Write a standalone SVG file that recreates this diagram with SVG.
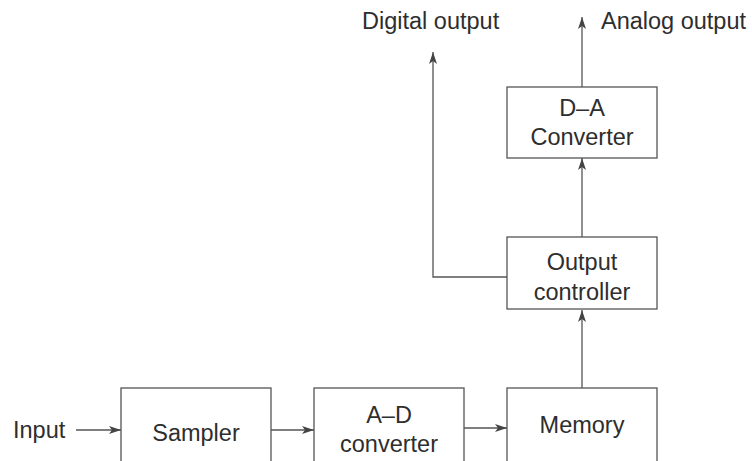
<svg xmlns="http://www.w3.org/2000/svg" width="752" height="461" viewBox="0 0 752 461">
<style>
.box{fill:none;stroke:#555;stroke-width:1.3}
.ln{fill:none;stroke:#555;stroke-width:1.3}
text{font-family:"Liberation Sans",Arial,sans-serif;font-size:23.5px;fill:#2e2e2e}
.c{text-anchor:middle}
</style>
<defs>
<marker id="ah" viewBox="0 0 12 8" refX="12" refY="4" markerWidth="12" markerHeight="8" markerUnits="userSpaceOnUse" orient="auto">
<path d="M0,0 L12,4 L0,8 L3,4 Z" fill="#444"/>
</marker>
</defs>
<rect width="752" height="461" fill="#fff"/>
<g id="connectors">
<line class="ln" x1="76" y1="430" x2="121" y2="430" marker-end="url(#ah)"/>
<line class="ln" x1="271" y1="430" x2="314" y2="430" marker-end="url(#ah)"/>
<line class="ln" x1="464" y1="428" x2="507" y2="428" marker-end="url(#ah)"/>
<line class="ln" x1="582" y1="388" x2="582" y2="310" marker-end="url(#ah)"/>
<line class="ln" x1="582" y1="237" x2="582" y2="158" marker-end="url(#ah)"/>
<line class="ln" x1="582" y1="87" x2="582" y2="17" marker-end="url(#ah)"/>
<polyline class="ln" points="507,277 433,277 433,52" marker-end="url(#ah)"/>
</g>
<g id="input"><text x="13" y="438">Input</text></g>
<g id="sampler"><rect class="box" x="121" y="388" width="150" height="90"/><text class="c" x="196" y="441">Sampler</text></g>
<g id="ad"><rect class="box" x="314" y="388" width="150" height="90"/><text class="c" x="389" y="423">A–D</text><text class="c" x="389" y="452">converter</text></g>
<g id="memory"><rect class="box" x="507" y="388" width="150" height="90"/><text class="c" x="582" y="433">Memory</text></g>
<g id="output-controller"><rect class="box" x="507" y="237" width="150" height="72"/><text class="c" x="582" y="270">Output</text><text class="c" x="582" y="300">controller</text></g>
<g id="da"><rect class="box" x="507" y="87" width="150" height="71"/><text class="c" x="582" y="116">D–A</text><text class="c" x="582" y="145">Converter</text></g>
<g id="digital-output"><text x="362" y="29">Digital output</text></g>
<g id="analog-output"><text x="601" y="29">Analog output</text></g>
</svg>
